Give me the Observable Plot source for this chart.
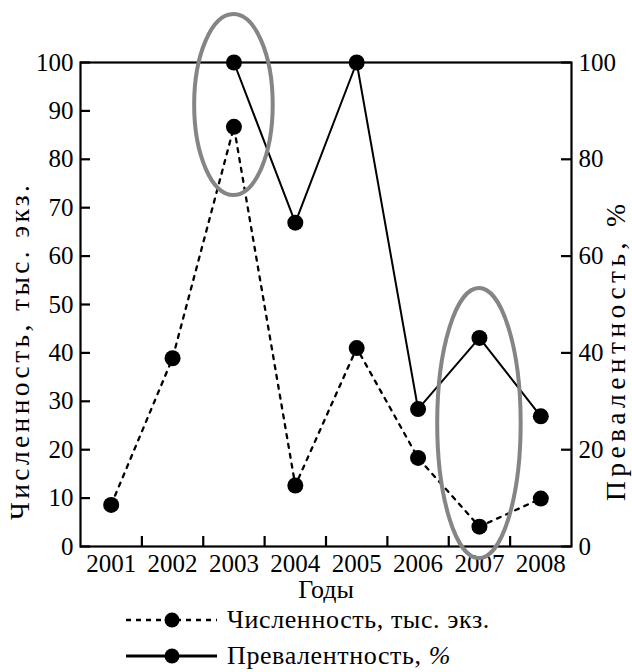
<!DOCTYPE html>
<html>
<head>
<meta charset="utf-8">
<script src="https://cdn.jsdelivr.net/npm/d3@7"></script>
<script src="https://cdn.jsdelivr.net/npm/@observablehq/plot@0.6"></script>
<style>
  body { margin: 0; background: #fff; font-family: "Liberation Serif", serif; }
  #wrap { position: relative; width: 632px; height: 672px; overflow: hidden; }
  #chart svg { display: block; }
  .legend-row { position: absolute; left: 126px; display: flex; align-items: center; height: 30px; font-size: 26px; line-height: 30px; color: #000; white-space: nowrap; }
  .legend-row svg { display: block; margin-right: 10px; }
</style>
</head>
<body>
<div id="wrap">
  <div id="chart"></div>
</div>
<script>
// ---- data ----
const years = [2001, 2002, 2003, 2004, 2005, 2006, 2007, 2008];
const abundance = [8.6, 38.9, 86.7, 12.6, 41.0, 18.3, 4.1, 9.9];          // Численность, тыс. экз.
const prevYears = [2003, 2004, 2005, 2006, 2007, 2008];
const prevalence = [100, 66.9, 100, 28.4, 43.1, 26.9];                    // Превалентность, %
const leftTicks = [0, 10, 20, 30, 40, 50, 60, 70, 80, 90, 100];
const rightTicks = [0, 20, 40, 60, 80, 100];
const highlightYears = [2003, 2007];
const highlightCenter = [91.2, 25.4];
const highlightHalfWidth = [0.64, 0.68];   // in years
const highlightHalfHeight = [18.7, 27.9];  // in axis units

const xLabel = "Годы";
const yLabelLeft = "Численность, тыс. экз.";
const yLabelRight = "Превалентность, %";
const legendLabels = ["Численность, тыс. экз.", "Превалентность, <i>%</i>"];

// ---- layout ----
const W = 632, H = 606;
const mL = 80, mR = 61, mT = 62, mB = 60;
const innerW = W - mL - mR, innerH = H - mT - mB;
const xDomain = [years[0] - 0.5, years[years.length - 1] + 0.5];
const tickLen = 10;
const tickX = tickLen / innerW * (xDomain[1] - xDomain[0]);
const tickY = tickLen / innerH * 100;
const FONT = "'Liberation Serif', serif";
const titleSize = 27.5;
const titleLengths = {[yLabelLeft]: 335, [yLabelRight]: 297};

const abData = years.map((y, i) => ({year: y, value: abundance[i]}));
const prData = prevYears.map((y, i) => ({year: y, value: prevalence[i]}));
const boundaries = years.slice(0, -1).map(y => y + 0.5);
const ell = highlightYears.map((y, i) => ({year: y, cy: highlightCenter[i], rx: highlightHalfWidth[i], ry: highlightHalfHeight[i]}));

function ellipseMark(data) {
  return Plot.dot(data, {
    x: "year", y: "cy", r: 0,
    render: (index, scales) => {
      const g = d3.create("svg:g");
      for (const d of data) {
        const cx = scales.x(d.year), cy = scales.y(d.cy);
        const rx = Math.abs(scales.x(d.year + d.rx) - cx);
        const ry = Math.abs(scales.y(d.cy + d.ry) - cy);
        g.append("ellipse")
          .attr("cx", cx).attr("cy", cy).attr("rx", rx).attr("ry", ry)
          .attr("fill", "none").attr("stroke", "#858585").attr("stroke-width", 4);
      }
      return g.node();
    }
  });
}

const chart = Plot.plot({
  width: W, height: H,
  marginLeft: mL, marginRight: mR, marginTop: mT, marginBottom: mB,
  style: {fontFamily: FONT, fontSize: "25px", color: "#000", background: "#fff", overflow: "visible"},
  x: {domain: xDomain},
  y: {domain: [0, 100]},
  marks: [
    Plot.frame({stroke: "#000", strokeWidth: 2.2}),
    Plot.axisY(leftTicks, {anchor: "left", tickSize: 0, tickPadding: 7, label: null, fontSize: 25, fontFamily: FONT}),
    Plot.axisY(rightTicks, {anchor: "right", tickSize: 0, tickPadding: 7, label: null, fontSize: 25, fontFamily: FONT}),
    Plot.axisX(years, {anchor: "bottom", tickSize: 0, tickPadding: 8, tickFormat: d => String(d), label: null, fontSize: 25, fontFamily: FONT}),
    // inward tick marks
    Plot.ruleY(leftTicks, {y: d => d, x1: xDomain[0], x2: xDomain[0] + tickX, stroke: "#000", strokeWidth: 2.2}),
    Plot.ruleY(rightTicks, {y: d => d, x1: xDomain[1] - tickX, x2: xDomain[1], stroke: "#000", strokeWidth: 2.2}),
    Plot.ruleX(boundaries, {x: d => d, y1: 0, y2: tickY, stroke: "#000", strokeWidth: 2.2}),
    // series
    Plot.line(abData, {x: "year", y: "value", stroke: "#000", strokeWidth: 2.3, strokeDasharray: "4,6"}),
    Plot.line(prData, {x: "year", y: "value", stroke: "#000", strokeWidth: 2}),
    ellipseMark(ell),
    Plot.dot(abData, {x: "year", y: "value", r: 8, fill: "#000"}),
    Plot.dot(prData, {x: "year", y: "value", r: 8, fill: "#000"}),
    // axis titles
    Plot.text([xLabel], {frameAnchor: "bottom", dy: 51, fontSize: 26, fontFamily: FONT, fill: "#000"}),
    Plot.text([yLabelLeft], {frameAnchor: "left", textAnchor: "middle", rotate: -90, dx: -60, dy: 48, fontSize: titleSize, fontFamily: FONT, fill: "#000"}),
    Plot.text([yLabelRight], {frameAnchor: "right", textAnchor: "middle", rotate: -90, dx: 45, dy: 48, fontSize: titleSize, fontFamily: FONT, fill: "#000"})
  ]
});
// stretch the axis titles to the reference's lengths
d3.select(chart).selectAll("text").each(function() {
  const t = this.textContent;
  if (titleLengths[t]) d3.select(this).attr("textLength", titleLengths[t]).attr("lengthAdjust", "spacing");
});
document.getElementById("chart").append(chart);

// legend
const wrap = d3.select("#wrap");
const rowCenters = [620, 656];
legendLabels.forEach((label, i) => {
  const dashed = i === 0;
  const row = wrap.append("div").attr("class", "legend-row").style("top", (rowCenters[i] - 15) + "px");
  const s = row.append("svg").attr("width", 91).attr("height", 20);
  s.append("line").attr("x1", 0).attr("x2", 91).attr("y1", 10).attr("y2", 10)
    .attr("stroke", "#000").attr("stroke-width", dashed ? 2.5 : 3.2)
    .attr("stroke-dasharray", dashed ? "5,5" : null);
  s.append("circle").attr("cx", 46).attr("cy", 10).attr("r", 7.5).attr("fill", "#000");
  row.append("span").style("letter-spacing", "0.6px").html(label);
});
</script>
</body>
</html>
